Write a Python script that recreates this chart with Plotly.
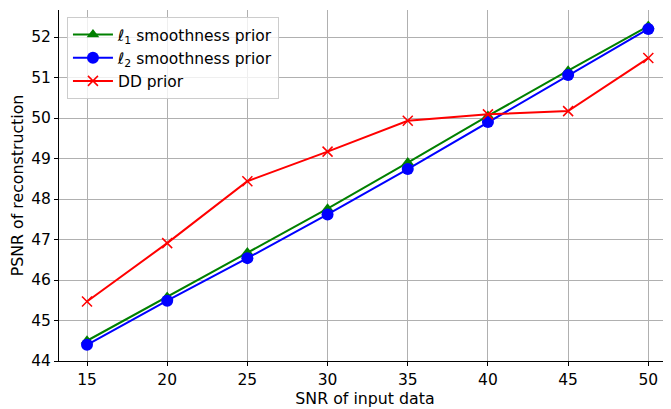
import plotly.graph_objects as go

snr = [15, 20, 25, 30, 35, 40, 45, 50]
l1_prior = [44.50, 45.58, 46.68, 47.76, 48.90, 50.05, 51.17, 52.27]
l2_prior = [44.40, 45.49, 46.54, 47.62, 48.74, 49.90, 51.06, 52.20]
dd_prior = [45.47, 46.91, 48.44, 49.17, 49.93, 50.09, 50.17, 51.48]
yticks = [44, 45, 46, 47, 48, 49, 50, 51, 52]

font = "DejaVu Sans"
fig = go.Figure()
fig.add_trace(go.Scatter(x=snr, y=l1_prior, mode="lines+markers",
                         name="<i>ℓ</i><sub>1</sub> smoothness prior",
                         line=dict(color="green", width=2),
                         marker=dict(symbol="triangle-up", size=11, color="green")))
fig.add_trace(go.Scatter(x=snr, y=l2_prior, mode="lines+markers",
                         name="<i>ℓ</i><sub>2</sub> smoothness prior",
                         line=dict(color="blue", width=2),
                         marker=dict(symbol="circle", size=12, color="blue")))
fig.add_trace(go.Scatter(x=snr, y=dd_prior, mode="lines+markers",
                         name="DD prior",
                         line=dict(color="red", width=2),
                         marker=dict(symbol="x-thin", size=10, color="red",
                                     line=dict(color="red", width=1.5))))

fig.update_layout(
    width=663, height=401,
    margin=dict(l=51, r=0, t=2, b=48, autoexpand=False),
    plot_bgcolor="white", paper_bgcolor="white",
    font=dict(family=font, size=15.5, color="black"),
    showlegend=True,
    legend=dict(x=0.013, y=0.98, xanchor="left", yanchor="top",
                bgcolor="rgba(255,255,255,0.8)", bordercolor="#cccccc", borderwidth=1,
                font=dict(size=15.5), tracegroupgap=0, itemwidth=40),
    xaxis=dict(range=[13.254, 51.415], tickvals=snr, ticks="outside", ticklen=4,
               tickcolor="black", showgrid=True, gridcolor="#b0b0b0", gridwidth=1,
               showline=True, linecolor="black", linewidth=1, mirror=False,
               zeroline=False, automargin=False, tickfont=dict(size=15.5),
               title=dict(text="SNR of input data", font=dict(size=15.8), standoff=4)),
    yaxis=dict(range=[44.0, 52.667], tickvals=yticks, ticks="outside", ticklen=4,
               tickcolor="black", showgrid=True, gridcolor="#b0b0b0", gridwidth=1,
               showline=True, linecolor="black", linewidth=1, mirror=True,
               zeroline=False, automargin=False, tickfont=dict(size=15.5),
               title=dict(text="PSNR of reconstruction", font=dict(size=15.8), standoff=4)),
)
fig.write_html("out.html")
